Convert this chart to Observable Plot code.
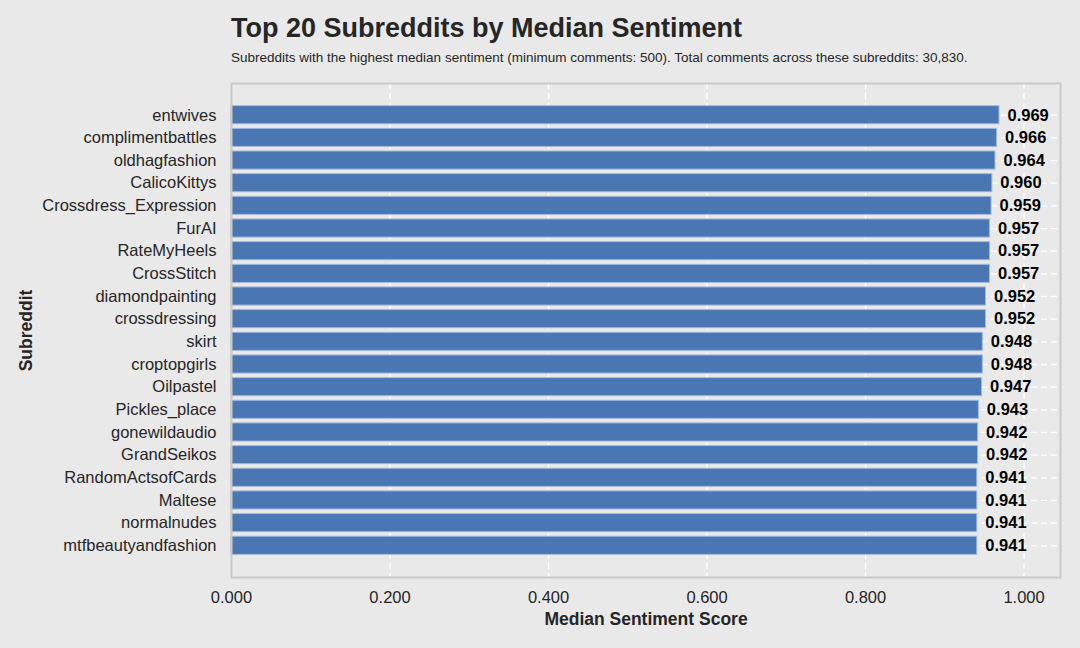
<!DOCTYPE html>
<html><head><meta charset="utf-8">
<script src="https://cdn.jsdelivr.net/npm/d3@7"></script>
<script src="https://cdn.jsdelivr.net/npm/@observablehq/plot@0.6"></script>
<style>
html,body{margin:0;padding:0;background:#e9e9e9;}
#wrap{position:relative;width:1080px;height:648px;font-family:"Liberation Sans",Arial,sans-serif;}
#title{position:absolute;left:231px;top:13px;font-size:27px;font-weight:bold;color:#262626;margin:0;white-space:nowrap;}
#sub{position:absolute;left:231px;top:50px;font-size:13.5px;color:#262626;white-space:nowrap;}
#chart{position:absolute;left:0;top:0;}
</style></head>
<body>
<div id="wrap">
<div id="chart"></div>
<div id="title">Top 20 Subreddits by Median Sentiment</div>
<div id="sub">Subreddits with the highest median sentiment (minimum comments: 500). Total comments across these subreddits: 30,830.</div>
</div>
<script>
const subreddits = ["entwives","complimentbattles","oldhagfashion","CalicoKittys","Crossdress_Expression","FurAI","RateMyHeels","CrossStitch","diamondpainting","crossdressing","skirt","croptopgirls","Oilpastel","Pickles_place","gonewildaudio","GrandSeikos","RandomActsofCards","Maltese","normalnudes","mtfbeautyandfashion"];
const medians = [0.969,0.966,0.964,0.960,0.959,0.957,0.957,0.957,0.952,0.952,0.948,0.948,0.947,0.943,0.942,0.942,0.941,0.941,0.941,0.941];
const xTicks = [0,0.2,0.4,0.6,0.8,1.0];

const data = subreddits.map((s,i)=>({sub:s, value:medians[i]}));
const font = "Liberation Sans, Arial, sans-serif";

const chart = Plot.plot({
  width:1080, height:648,
  marginLeft:231, marginRight:20, marginTop:83, marginBottom:71,
  style:{background:"transparent", fontFamily:font, color:"#262626"},
  x:{domain:[0,1.046]},
  y:{type:"band", domain:subreddits, paddingInner:0.2, paddingOuter:1.0, align:0.5, round:false},
  marks:[
    Plot.gridX(xTicks.slice(1), {stroke:"white", strokeOpacity:1, strokeWidth:1.3, strokeDasharray:"6,4"}),
    Plot.gridY(subreddits, {stroke:"white", strokeOpacity:1, strokeWidth:1.3, strokeDasharray:"6,4"}),
    Plot.barX(data, {x:"value", y:"sub", fill:"#4a77b4", stroke:"#a3badf", strokeWidth:1}),
    Plot.text(data, {x:"value", y:"sub", text:d=>d.value.toFixed(3), dx:8, textAnchor:"start", fontWeight:"bold", fontSize:16.5, fill:"black"}),
    Plot.axisX({ticks:xTicks, tickFormat:d=>d.toFixed(3), tickSize:0, tickPadding:14, fontSize:16.5, label:"Median Sentiment Score", labelAnchor:"center", labelArrow:"none", labelOffset:47}),
    Plot.axisY({tickSize:0, tickPadding:15, fontSize:16.5, label:"Subreddit", labelAnchor:"center", labelArrow:"none", labelOffset:212}),
    Plot.frame({stroke:"#c9c9c9", strokeWidth:2})
  ]
});
chart.querySelectorAll("[aria-label='x-axis label'] text, [aria-label='y-axis label'] text").forEach(t=>{
  t.setAttribute("font-weight","bold"); t.setAttribute("font-size","17.5");
});
document.getElementById("chart").appendChild(chart);
</script>
</body></html>
